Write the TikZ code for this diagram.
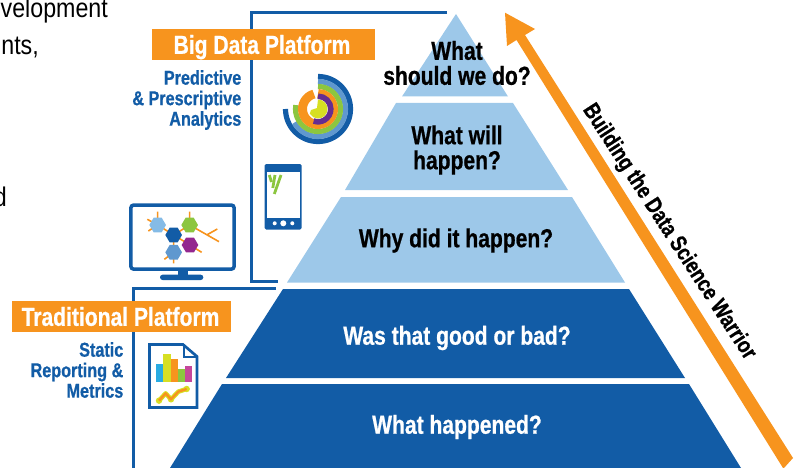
\documentclass[tikz,border=0pt]{standalone}
\usepackage{fontspec}
\setmainfont{Liberation Sans}
\newfontfamily\cond[FakeStretch=0.86]{Liberation Sans}
\newfontfamily\condb[FakeStretch=0.81,FakeBold=0.7]{Liberation Sans}
\definecolor{dk}{HTML}{125CA6}
\definecolor{lt}{HTML}{9DC8E9}
\definecolor{org}{HTML}{F7941E}
\definecolor{mid}{HTML}{5F98CF}
\definecolor{grn}{HTML}{8CC63F}
\definecolor{pur}{HTML}{662D91}
\definecolor{lim}{HTML}{D7DF23}
\definecolor{sky}{HTML}{85BBE6}
\definecolor{mag}{HTML}{93278F}
\definecolor{cya}{HTML}{29ABE2}
\definecolor{pnk}{HTML}{C6479B}
\tikzset{
 tierlt/.style={fill=lt,draw=none},
 tierdk/.style={fill=dk,draw=none},
 qb/.style={font=\condb\bfseries\fontsize{26}{25}\selectfont,text=black,align=center,inner sep=0pt},
 qw/.style={font=\condb\bfseries\fontsize{26}{25}\selectfont,text=white,align=center,inner sep=0pt},
 lab/.style={fill=org,text=white,font=\condb\bfseries\fontsize{26}{26}\selectfont,inner sep=0pt,minimum height=31pt,text height=18.6pt,text depth=0pt},
 side/.style={text=dk,font=\condb\bfseries\fontsize{20}{20.5}\selectfont,align=right,inner sep=0pt,anchor=east},
 frag/.style={text=black,font=\cond\fontsize{27}{30}\selectfont,inner sep=0pt,anchor=base east},
 frame/.style={draw=dk,line width=3pt},
 twig/.style={draw=org,line width=1.6pt}
}
\newcommand{\myring}[5]{\draw[#1,line width=#2pt] (#3:#5pt) arc[start angle=#3,end angle=#4,radius=#5pt];}
\newcommand{\myhex}[3]{\fill[#1] (#2-25,#3) -- (#2-12,#3-22) -- (#2+12,#3-22) -- (#2+25,#3) -- (#2+12,#3+22) -- (#2-12,#3+22) -- cycle;}
\begin{document}
\begin{tikzpicture}[x=1pt,y=-1pt]
\useasboundingbox (0,0) rectangle (797,468);
\clip (0,0) rectangle (797,468);
% cropped body text
\node[frag] (f1) at (108,18) {velopment};
\node[frag] (f2) at (39,55) {nts,};
\node[frag] (f3) at (7,206) {d};
% frames
\coordinate (ua) at (447,13);\coordinate (ub) at (251,13);\coordinate (uc) at (251,281);\coordinate (ud) at (278,281);
\draw[frame,line join=miter] (ua) -- (ub) -- (uc) -- (ud);
\coordinate (la) at (276,288);\coordinate (lb) at (133,288);\coordinate (lc) at (133,470);
\draw[frame,line join=miter] (la) -- (lb) -- (lc);
% pyramid
\fill[tierlt] (456,14) -- (508,96.5) -- (402,96.5) -- cycle;
\fill[tierlt] (396,103) -- (513,103) -- (568,190) -- (345,190) -- cycle;
\fill[tierlt] (341,197) -- (572,197) -- (625,282.5) -- (287,282.5) -- cycle;
\fill[tierdk] (283,289) -- (629,289) -- (685,378) -- (226,378) -- cycle;
\fill[tierdk] (222,384) -- (689,384) -- (741,468) -- (170,468) -- cycle;
\node[qb] (q1) at (457,63) {What\\should we do?};
\node[qb] (q2) at (457,150) {What will\\happen?};
\node[qb] (q3) at (456,240.5) {Why did it happen?};
\node[qw] (q4) at (457,338) {Was that good or bad?};
\node[qw] (q5) at (457,427) {What happened?};
% arrow
\fill[org] (505,12.7) -- (535,29) -- (525,35) -- (793,458) -- (784,468) -- (783,468) -- (516.5,40) -- (507,46) -- cycle;
\node[font=\condb\bfseries\fontsize{23}{24}\selectfont,text=black,rotate=-57,inner sep=0pt] (bw) at (669,232) {Building the Data Science Warrior};
% labels
\node[lab,minimum width=223pt] (big) at (263.5,44.5) {Big Data Platform\hspace*{3pt}};
\node[lab,minimum width=219pt] (trad) at (121.5,316.5) {Traditional Platform\hspace*{2pt}};
\node[side] (s1) at (241.5,100) {Predictive\\\& Prescriptive\\Analytics};
\node[side] (s2) at (123.5,370) {Static\\Reporting \&\\Metrics};
% donut icon
\begin{scope}[shift={(318,109)},y=1pt]
\myring{dk}{5.2}{90}{-180}{32.5}
\myring{mid}{5.2}{90}{-150}{27.5}
\myring{grn}{5.2}{90}{-190}{22.5}
\myring{org}{9}{105}{450}{15.5}
\myring{pur}{5.6}{90}{-110}{12.8}
\fill[lim] (0,9.5) arc[start angle=90,end angle=-150,radius=9.5pt] -- (-7,-1) -- (-1,1) -- cycle;
\end{scope}
% phone
\fill[dk,rounded corners=1.5pt] (264.5,164) rectangle (301.5,229.5);
\fill[white] (267,172.3) rectangle (299.5,218.3);
\fill[white] (274.7,223.3) circle (2) (283.3,223.3) circle (3) (292.3,223.3) circle (2);
\draw[grn,line width=2.8pt] (269.3,175) -- (271.5,182);
\draw[grn,line width=2.8pt] (275,175) -- (272.8,188);
\draw[grn,line width=2.8pt] (281,175) -- (274.3,194);
% monitor
\draw[dk,line width=3.5pt,rounded corners=3pt] (130.8,205) rectangle (234.2,269.2);
\fill[dk] (177.7,270) rectangle (187.7,275.5);
\fill[dk,rounded corners=2.6pt] (160,274.7) rectangle (203.3,280);
\begin{scope}[shift={(125,200)},x=0.3333pt,y=-0.3333pt]
\draw[twig] (98,35) -- (98,75) (67,58) -- (98,75) -- (70,93) (98,75) -- (146,105) -- (194,75) -- (194,35);
\draw[twig] (194,75) -- (282,125) (245,105) -- (277,87);
\draw[twig] (146,105) -- (146,190) (146,157) -- (118,178) (146,105) -- (195,135) -- (230,157);
\myhex{sky}{98}{75}
\myhex{dk}{146}{105}
\myhex{grn}{194}{75}
\myhex{mag}{195}{135}
\myhex{mid}{146}{157}
\end{scope}
% document
\draw[dk,line width=2.7pt,line join=miter,fill=white] (149.5,344.5) -- (183,344.5) -- (197,356.5) -- (197,407.5) -- (149.5,407.5) -- cycle;
\draw[dk,line width=2pt] (184,345) -- (184,357) -- (197,357);
\begin{scope}[shift={(145,340)},x=0.3333pt,y=-0.3333pt]
\fill[cya] (32,72) rectangle (54,125);
\fill[lim] (54,43) rectangle (77,125);
\fill[org] (77,58) rectangle (98,125);
\fill[grn] (98,88) rectangle (120,125);
\fill[pnk] (120,78) rectangle (140,125);
\draw[lim,line width=4.5pt,line join=round] (42,182) -- (62,160) -- (78,178) -- (100,155) -- (125,147);
\fill[lim] (42,182) circle (3.2pt) (78,178) circle (3.2pt) (125,147) circle (3.2pt);
\draw[org,line width=2.4pt,line join=round] (42,182) -- (62,160) -- (78,178) -- (100,155) -- (125,147);
\end{scope}
\end{tikzpicture}
\end{document}
